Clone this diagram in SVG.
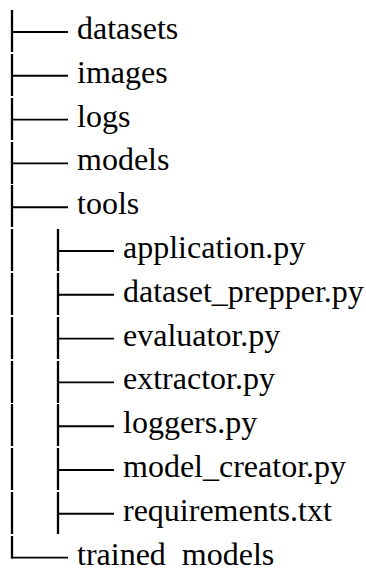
<svg xmlns="http://www.w3.org/2000/svg" width="366" height="571" viewBox="0 0 366 571">
<rect width="366" height="571" fill="#fff"/>
<g id="connectors">
<path stroke="#000" stroke-width="2.3" fill="none" d="M12 10V52M12 54V96M12 98V140M12 142V184M12 185V227M12 229V271M12 273V315M12 317V359M12 361V403M12 404V446M12 448V490M12 492V534M12 536V558.5"/>
<path stroke="#000" stroke-width="1.9" fill="none" d="M12 32H68M12 75.8H68M12 119.6H68M12 163.4H68M12 207.2H68M11 557.6H68"/>
<path stroke="#000" stroke-width="2.3" fill="none" d="M58 229V271M58 273V315M58 317V359M58 361V403M58 404V446M58 448V490M58 492V534"/>
<path stroke="#000" stroke-width="1.9" fill="none" d="M58 251H114M58 294.8H114M58 338.6H114M58 382.4H114M58 426.2H114M58 470H114M58 513.8H114"/>
</g>
<g font-size="32" fill="#000">
<text id="datasets" x="77" y="39" font-family="Liberation Serif">datasets</text>
<text id="images" x="77" y="82.8" font-family="Liberation Serif">images</text>
<text id="logs" x="77" y="126.6" font-family="Liberation Serif">logs</text>
<text id="models" x="77" y="170.4" font-family="Liberation Serif">models</text>
<text id="tools" x="77" y="214.2" font-family="Liberation Serif">tools</text>
<text id="application" x="123" y="258" font-family="Liberation Serif">application.py</text>
<text id="dataset_prepper" x="123" y="301.8" font-family="Liberation Serif">dataset_prepper.py</text>
<text id="evaluator" x="123" y="345.6" font-family="Liberation Serif">evaluator.py</text>
<text id="extractor" x="123" y="389.4" font-family="Liberation Serif">extractor.py</text>
<text id="loggers" x="123" y="433.2" font-family="Liberation Serif">loggers.py</text>
<text id="model_creator" x="123" y="477" font-family="Liberation Serif">model_creator.py</text>
<text id="requirements" x="123" y="520.8" font-family="Liberation Serif">requirements.txt</text>
<text id="trained_models" x="77" y="564.6" font-family="Liberation Serif">trained&#160; models</text>
</g>
</svg>
